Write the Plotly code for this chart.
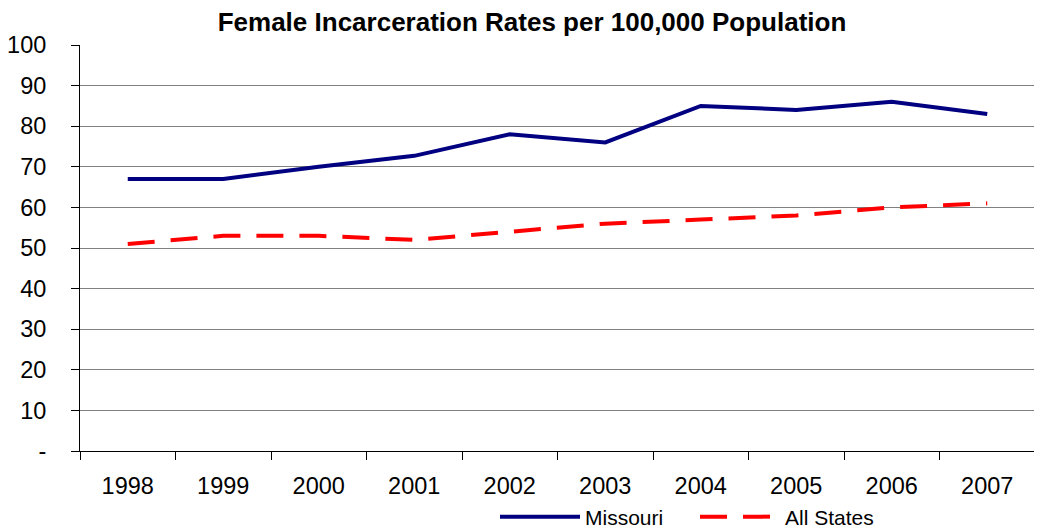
import plotly.graph_objects as go

years = ["1998", "1999", "2000", "2001", "2002", "2003", "2004", "2005", "2006", "2007"]
missouri = [67, 67, 70, 72.7, 78, 76, 85, 84, 86, 83]
all_states = [51, 53, 53, 52, 54, 56, 57, 58, 60, 61]
y_tick_vals = [0, 10, 20, 30, 40, 50, 60, 70, 80, 90, 100]
y_tick_text = ["-", "10", "20", "30", "40", "50", "60", "70", "80", "90", "100"]

font_family = "Liberation Sans, Arial, sans-serif"

# The page body has an 8px default margin, so the figure is drawn at (8, 8).
W, H = 1034, 521

fig = go.Figure()
fig.add_trace(go.Scatter(x=years, y=missouri, name="Missouri", mode="lines",
                         line=dict(color="#000080", width=4)))
fig.add_trace(go.Scatter(x=years, y=all_states, name="All States", mode="lines",
                         line=dict(color="#FF0000", width=4, dash="27px,16px")))

fig.update_layout(
    width=W, height=H,
    margin=dict(l=72, r=7, t=37, b=78, autoexpand=False),
    paper_bgcolor="white", plot_bgcolor="white",
    font=dict(family=font_family, size=23.5, color="black"),
    title=dict(text="<b>Female Incarceration Rates per 100,000 Population</b>",
               x=524 / W, xanchor="center", xref="container",
               y=1 - 13.5 / H, yanchor="middle", yref="container",
               font=dict(size=26, family=font_family)),
    showlegend=True,
    legend=dict(orientation="h", xref="container", yref="container",
                x=487 / W, xanchor="left", y=1 - 509 / H, yanchor="middle",
                font=dict(size=21), itemwidth=80, entrywidth=105,
                bgcolor="rgba(0,0,0,0)"),
    xaxis=dict(type="category", range=[-0.5, 9.5], automargin=False,
               showline=True, linecolor="black", linewidth=1,
               ticks="outside", tickson="boundaries", ticklen=8, tickcolor="black",
               showgrid=False, ticklabelstandoff=14, tickfont=dict(size=23.5)),
    yaxis=dict(range=[0, 100], tickvals=y_tick_vals, ticktext=y_tick_text,
               automargin=False,
               showline=True, linecolor="black", linewidth=1,
               ticks="outside", ticklen=8, tickcolor="black",
               showgrid=True, gridcolor="#808080", gridwidth=1,
               zeroline=False, ticklabelstandoff=20, tickfont=dict(size=23.5)),
)

fig.write_html("out.html")
